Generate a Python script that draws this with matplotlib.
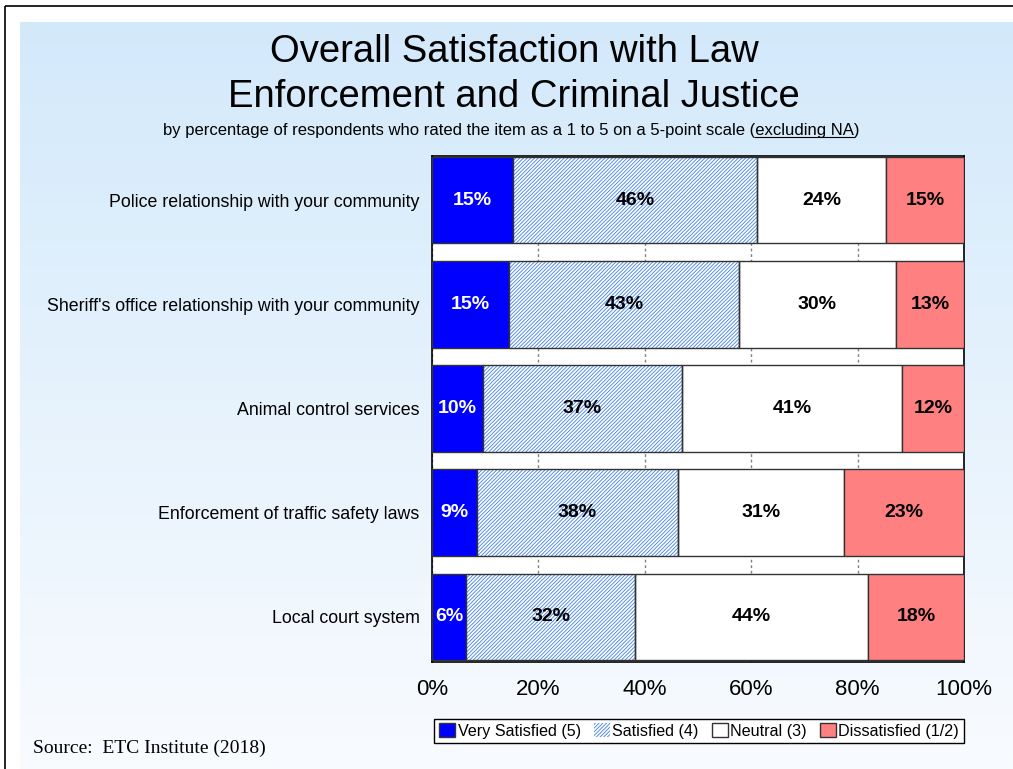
import numpy as np
import matplotlib
matplotlib.use('Agg')
import matplotlib.pyplot as plt
from matplotlib.patches import Rectangle, Patch
from matplotlib.ticker import PercentFormatter

# data (percent of respondents)
categories = ['Police relationship with your community',
              "Sheriff's office relationship with your community",
              'Animal control services',
              'Enforcement of traffic safety laws',
              'Local court system']
very_satisfied = [15.2, 14.5, 9.6, 8.5, 6.4]
satisfied = [45.9, 43.2, 37.4, 37.7, 31.8]
neutral = [24.2, 29.5, 41.3, 31.2, 43.8]
dissatisfied = [14.7, 12.8, 11.7, 22.6, 18.0]
labels_vs = ['15%', '15%', '10%', '9%', '6%']
labels_s = ['46%', '43%', '37%', '38%', '32%']
labels_n = ['24%', '30%', '41%', '31%', '44%']
labels_d = ['15%', '13%', '12%', '23%', '18%']
legend_names = ['Very Satisfied (5)', 'Satisfied (4)', 'Neutral (3)', 'Dissatisfied (1/2)']

plt.rcParams['font.family'] = ['Liberation Sans', 'DejaVu Sans']
plt.rcParams['hatch.linewidth'] = 0.65

W, H = 1013, 769
fig = plt.figure(figsize=(W / 100, H / 100), dpi=100)

# gradient background panel + outer frame
bg = fig.add_axes([0, 0, 1, 1], zorder=-10)
bg.set_xlim(0, W)
bg.set_ylim(H, 0)
bg.axis('off')
top_c = np.array([0.827, 0.914, 0.984])
bot_c = np.array([0.975, 0.985, 0.998])
t = np.linspace(0, 1, 256)[:, None, None]
grad = top_c * (1 - t) + bot_c * t
grad = np.repeat(grad, 2, axis=1)
bg.imshow(grad, extent=(20, W, H, 22), aspect='auto', interpolation='bilinear')
bg.add_patch(Rectangle((5, 6), W + 10, H + 10, fill=False, edgecolor='black', linewidth=1.2))

ax = fig.add_axes([432 / W, 1 - 662 / H, (964 - 432) / W, (662 - 156) / H])
ax.set_facecolor('white')

y = np.arange(len(categories))
h = 0.83
vs = np.array(very_satisfied)
s = np.array(satisfied)
n = np.array(neutral)
d = np.array(dissatisfied)

edge = '#333333'
hatch_col = '#4A86E8'
ax.barh(y, vs, height=h, color='#0000FF', edgecolor=edge, linewidth=1, zorder=3)
ax.barh(y, s, left=vs, height=h, color='white', edgecolor=hatch_col, linewidth=0,
        hatch='/////////', zorder=3)
ax.barh(y, s, left=vs, height=h, fill=False, edgecolor=edge, linewidth=1, zorder=4)
ax.barh(y, n, left=vs + s, height=h, color='white', edgecolor=edge, linewidth=1, zorder=3)
ax.barh(y, d, left=vs + s + n, height=h, color='#FF8080', edgecolor=edge, linewidth=1, zorder=3)

lbl_kw = dict(ha='center', va='center', fontsize=14, fontweight='bold', zorder=5)
for i in range(len(categories)):
    ax.text(vs[i] / 2, y[i], labels_vs[i], color='white', **lbl_kw)
    ax.text(vs[i] + s[i] / 2, y[i], labels_s[i], color='black', **lbl_kw)
    ax.text(vs[i] + s[i] + n[i] / 2, y[i], labels_n[i], color='black', **lbl_kw)
    ax.text(vs[i] + s[i] + n[i] + d[i] / 2, y[i], labels_d[i], color='black', **lbl_kw)

ax.set_xlim(0, 100)
ax.set_ylim(4.433, -0.423)
ax.set_xticks([0, 20, 40, 60, 80, 100])
ax.xaxis.set_major_formatter(PercentFormatter(decimals=0))
ax.tick_params(axis='x', labelsize=16, length=0, pad=12)
ax.set_yticks(y)
ax.set_yticklabels(categories, fontsize=12.8)
ax.tick_params(axis='y', length=0, pad=9)
ax.grid(axis='x', color='#808080', linestyle=(0, (2, 2)), linewidth=1, zorder=0)
for sp in ax.spines.values():
    sp.set_color('black')
    sp.set_linewidth(1.2)

# title and subtitle
fig.text(514 / W, 1 - 52 / H, 'Overall Satisfaction with Law', ha='center', va='center', fontsize=27.5)
fig.text(514 / W, 1 - 97 / H, 'Enforcement and Criminal Justice', ha='center', va='center', fontsize=27.5)

sub_pre = 'by percentage of respondents who rated the item as a 1 to 5 on a 5-point scale ('
sub_u = 'excluding NA'
sub_full = sub_pre + sub_u + ')'
sub_fs = 12
st = fig.text(511 / W, 1 - 131 / H, sub_full, ha='center', va='center', fontsize=sub_fs)
renderer = fig.canvas.get_renderer()
bb_full = st.get_window_extent(renderer)
tmp = fig.text(0, 0, sub_pre, fontsize=sub_fs)
w_pre = tmp.get_window_extent(renderer).width
tmp.set_text(sub_pre + sub_u)
w_pu = tmp.get_window_extent(renderer).width
tmp.remove()
x0 = bb_full.x0 + w_pre
x1 = bb_full.x0 + w_pu
yu = bb_full.y0 + 1.5
fig.add_artist(plt.Line2D([x0 / W, x1 / W], [yu / H, yu / H], color='black', linewidth=0.8))

# legend
handles = [Patch(facecolor='#0000FF', edgecolor=edge),
           Patch(facecolor='white', edgecolor=hatch_col, hatch='/////////', linewidth=0),
           Patch(facecolor='white', edgecolor=edge),
           Patch(facecolor='#FF8080', edgecolor=edge)]
leg = fig.legend(handles, legend_names, loc='center', bbox_to_anchor=(699 / W, 1 - 731 / H),
                 ncol=4, fontsize=11.6, frameon=True, fancybox=False, shadow=False,
                 handlelength=1.0, handleheight=0.9, handletextpad=0.15, columnspacing=0.8,
                 borderpad=0.3, borderaxespad=0)
leg.get_frame().set_edgecolor('black')
leg.get_frame().set_linewidth(1)
leg.get_frame().set_facecolor('white')
leg.get_frame().set_alpha(1)

fig.text(33 / W, 1 - 748 / H, 'Source:  ETC Institute (2018)', ha='left', va='center',
         fontsize=14, family=['Liberation Serif', 'DejaVu Serif'])

fig.savefig('out.png', dpi=100)
